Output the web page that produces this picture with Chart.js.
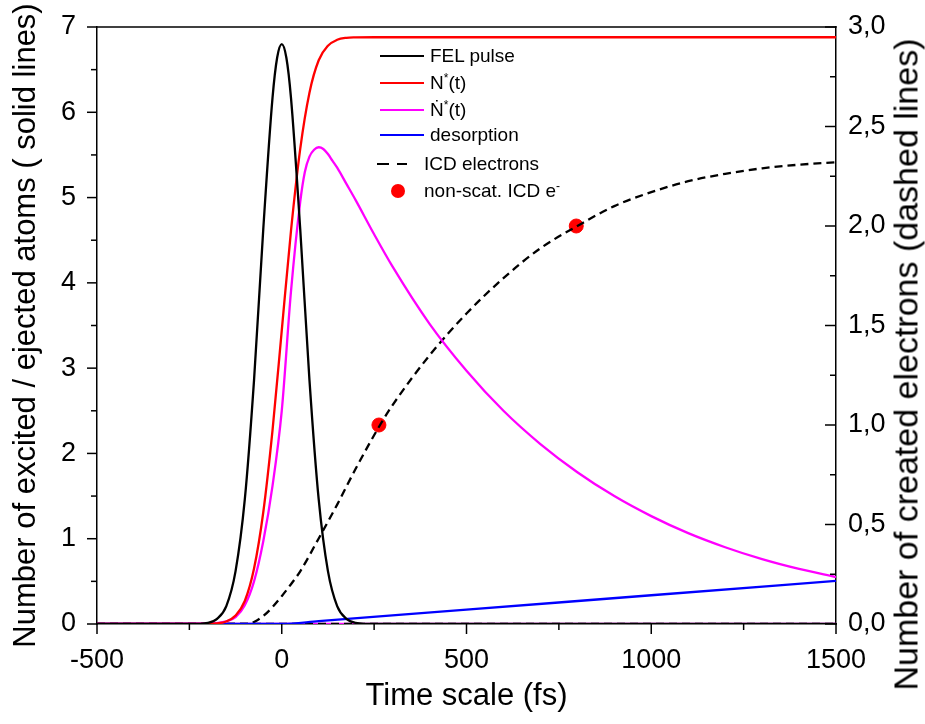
<!DOCTYPE html>
<html><head><meta charset="utf-8">
<script src="https://cdn.jsdelivr.net/npm/chart.js@4"></script>
<style>
html,body{margin:0;padding:0;background:#fff;}
#wrap{position:relative;width:925px;height:724px;font-family:'Liberation Sans',Arial,sans-serif;overflow:hidden;}
#c{position:absolute;left:0;top:0;}
.lgt{position:absolute;font-size:19px;color:#000;white-space:nowrap;line-height:19px;}
.sup{font-size:12px;position:relative;top:-7px;}
.sw{position:absolute;height:0;}
#rtitle{position:absolute;font-size:34px;white-space:nowrap;color:#000;transform-origin:center center;}
</style></head>
<body>
<div id="wrap">
<canvas id="c" width="925" height="724"></canvas>
<div id="legend"></div>
<div id="rtitle">Number of created electrons (dashed lines)</div>
</div>
<script>
// ---- data ----
const felTime = [-500,-250,-200,-175,-150,-125,-100,-75,-50,-25,-12.5,0,12.5,25,50,75,100,125,150,175,200,250,1500];
const felVals = [0,0,0.014,0.06,0.21,0.62,1.46,2.86,4.63,6.17,6.64,6.8,6.64,6.17,4.63,2.86,1.46,0.62,0.21,0.06,0.014,0,0];

const nTime = [-500,-200,-175,-150,-125,-100,-75,-50,-25,0,25,50,75,100,125,150,175,200,250,1500];
const nVals = [0,0.002,0.007,0.03,0.10,0.27,0.65,1.31,2.27,3.44,4.61,5.57,6.23,6.61,6.78,6.85,6.873,6.878,6.88,6.88];

const ndotTime = [-500,-200,-150,-125,-100,-75,-50,-25,0,25,50,62.5,75,87.5,100,112.5,125,137.5,150,175,200,250,300,400,500,600,700,800,900,1000,1100,1200,1300,1400,1500];
const ndotVals = [0,0.005,0.03,0.08,0.22,0.5,0.97,1.62,2.5,3.9,4.95,5.3,5.48,5.56,5.59,5.57,5.51,5.43,5.35,5.16,4.97,4.57,4.19,3.52,2.97,2.5,2.11,1.78,1.5,1.265,1.065,0.9,0.76,0.645,0.55];

const desTime = [-500,0,100,500,1000,1500];
const desVals = [0,0,0.034,0.168,0.337,0.505];

const icdTime = [-500,-90,-75,-50,-25,0,25,50,100,150,200,266,300,400,500,600,700,800,900,1000,1100,1200,1300,1400,1500];
const icdVals = [0,0,0.01,0.04,0.085,0.14,0.2,0.265,0.43,0.6,0.78,1.0,1.1,1.35,1.56,1.738,1.888,2.0,2.1,2.17,2.225,2.262,2.29,2.308,2.32];

const dotTime = [263,797];
const dotVals = [1.0,2.0];

const zeroTime = [-500,1500];
const zeroVals = [0,0];

const xTickLabels = [-500,0,500,1000,1500];
const yTickLabels = [0,1,2,3,4,5,6,7];
const y2TickLabels = ['0,0','0,5','1,0','1,5','2,0','2,5','3,0'];

const legendNames = ['FEL pulse','N<span class="sup">*</span>(t)','\u1E44<span class="sup">*</span>(t)','desorption','ICD electrons','non-scat. ICD e<span class="sup">-</span>'];

// ---- build ----
const pts = (t,v)=>t.map((x,i)=>({x:x,y:v[i]}));
const FONT = "'Liberation Sans', Arial, sans-serif";
const LW = 2.3;

const datasets = [
  {label:'FEL pulse', data:pts(felTime,felVals), borderColor:'#000000', borderWidth:LW, yAxisID:'y', pointRadius:0, cubicInterpolationMode:'monotone'},
  {label:'N*(t)', data:pts(nTime,nVals), borderColor:'#ff0000', borderWidth:LW, yAxisID:'y', pointRadius:0, cubicInterpolationMode:'monotone'},
  {label:'Ndot*(t)', data:pts(ndotTime,ndotVals), borderColor:'#ff00ff', borderWidth:LW, yAxisID:'y', pointRadius:0, cubicInterpolationMode:'monotone'},
  {label:'desorption', data:pts(desTime,desVals), borderColor:'#0000ff', borderWidth:LW, yAxisID:'y', pointRadius:0, cubicInterpolationMode:'monotone'},
  {label:'ICD electrons', data:pts(icdTime,icdVals), borderColor:'#000000', borderWidth:LW, borderDash:[8,5], yAxisID:'y2', pointRadius:0, cubicInterpolationMode:'monotone'},
  {label:'non-scat. ICD e-', data:pts(dotTime,dotVals), showLine:false, pointRadius:7, pointBackgroundColor:'#ff0000', pointBorderColor:'#ff0000', yAxisID:'y2'},
  {label:'zero-dash', data:pts(zeroTime,zeroVals), borderColor:'#000000', borderWidth:LW, borderDash:[8,5], yAxisID:'y2', pointRadius:0},
  {label:'zero-mag', data:pts(zeroTime,zeroVals), borderColor:'#ff00ff', borderWidth:LW, yAxisID:'y', pointRadius:0}
];

const near = (v,s)=>Math.abs(v/s-Math.round(v/s))<1e-6;

const axisTicks = {
  id:'axisTicks',
  afterDraw(chart){
    const ctx=chart.ctx, a=chart.chartArea;
    ctx.save(); ctx.strokeStyle='#000'; ctx.lineWidth=1.5;
    ctx.beginPath(); ctx.moveTo(a.left-0.75,a.top); ctx.lineTo(a.right+0.75,a.top); ctx.stroke();
    const xs=chart.scales.x, ys=chart.scales.y, y2=chart.scales.y2;
    xs.ticks.forEach(t=>{const p=xs.getPixelForValue(t.value); const L=near(t.value,500)?10:6;
      ctx.beginPath(); ctx.moveTo(p,a.bottom); ctx.lineTo(p,a.bottom+L); ctx.stroke();});
    ys.ticks.forEach(t=>{const p=ys.getPixelForValue(t.value); const L=near(t.value,1)?10:6;
      ctx.beginPath(); ctx.moveTo(a.left,p); ctx.lineTo(a.left-L,p); ctx.stroke();});
    y2.ticks.forEach(t=>{const p=y2.getPixelForValue(t.value); const L=near(t.value,0.5)?11:6;
      ctx.beginPath(); ctx.moveTo(a.right,p); ctx.lineTo(a.right-L,p); ctx.stroke();});
    ctx.restore();
  }
};

const fitV = w => s => { s.width = w; s.paddingTop = 0; s.paddingBottom = 0; };

const chart = new Chart(document.getElementById('c'), {
  type:'line',
  data:{datasets:datasets},
  options:{
    responsive:false, devicePixelRatio:1, animation:false,
    layout:{padding:{top:27,right:0,bottom:0,left:0}},
    plugins:{legend:{display:false}, tooltip:{enabled:false}},
    scales:{
      x:{type:'linear', min:-500, max:1500,
        afterFit:s=>{s.height=100; s.paddingLeft=0; s.paddingRight=0;},
        ticks:{stepSize:250, autoSkip:false, maxRotation:0, padding:20, color:'#000', font:{family:FONT,size:27},
          callback:v=>xTickLabels.includes(v)?String(v):''},
        grid:{display:true, drawOnChartArea:false, drawTicks:false},
        border:{display:true,color:'#000',width:1.5},
        title:{display:true,text:'Time scale (fs)',color:'#000',font:{family:FONT,size:31},padding:{top:0,bottom:9}}
      },
      y:{type:'linear', position:'left', min:0, max:7,
        afterFit:fitV(97),
        ticks:{stepSize:0.5, autoSkip:false, padding:21, color:'#000', font:{family:FONT,size:27},
          callback:v=>yTickLabels.includes(v)?String(v):''},
        grid:{display:true, drawOnChartArea:false, drawTicks:false},
        border:{display:true,color:'#000',width:1.5},
        title:{display:true,text:'Number of excited / ejected atoms ( solid lines)',color:'#000',font:{family:FONT,size:31},padding:{top:8,bottom:0}}
      },
      y2:{type:'linear', position:'right', min:0, max:3,
        afterFit:fitV(89),
        ticks:{stepSize:0.25, autoSkip:false, padding:12, color:'#000', font:{family:FONT,size:27},
          callback:v=>near(v,0.5)?y2TickLabels[Math.round(v*2)]:''},
        grid:{display:true, drawOnChartArea:false, drawTicks:false},
        border:{display:true,color:'#000',width:1.5}
      }
    }
  },
  plugins:[axisTicks]
});

// ---- HTML legend (from dataset styles) ----
const lg = document.getElementById('legend');
const rows = [56,83,110,135,164,191];
for(let i=0;i<6;i++){
  const ds = datasets[i]; const y=rows[i];
  if(i<4){
    const s=document.createElement('div'); s.className='sw';
    s.style.cssText=`left:380px;top:${y-1}px;width:44px;border-top:2px solid ${ds.borderColor};`;
    lg.appendChild(s);
  } else if(i===4){
    [[377,12],[397,10]].forEach(([x,w])=>{const s=document.createElement('div'); s.className='sw';
      s.style.cssText=`left:${x}px;top:${y-1}px;width:${w}px;border-top:2px solid ${ds.borderColor};`; lg.appendChild(s);});
  } else {
    const s=document.createElement('div');
    s.style.cssText=`position:absolute;left:391px;top:${y-7}px;width:14px;height:14px;border-radius:50%;background:${ds.pointBackgroundColor};`;
    lg.appendChild(s);
  }
  const t=document.createElement('div'); t.className='lgt';
  t.style.left=(i<4?430:424)+'px'; t.style.top=(y-10)+'px';
  t.innerHTML=legendNames[i];
  lg.appendChild(t);
}
// right axis title, rotated to read bottom-to-top
const rt=document.getElementById('rtitle');
const w=rt.offsetWidth, h=rt.offsetHeight;
rt.style.left=(906-w/2)+'px'; rt.style.top=(364-h/2)+'px';
rt.style.transform='rotate(-90deg)';
</script>
</body></html>
